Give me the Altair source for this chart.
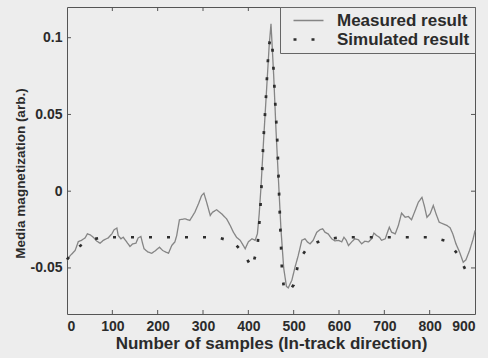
import altair as alt
import pandas as pd

# Measured result (sample index, magnetization)
meas_s = [0, 7, 18, 25, 32, 40, 45, 51, 58, 66,
          73, 80, 91, 99, 104, 110, 113, 119, 124, 132,
          139, 145, 152, 157, 163, 167, 170, 179, 187, 194,
          204, 211, 218, 224, 231, 238, 242, 248, 260, 271,
          282, 290, 297, 302, 308, 316, 321, 330, 341, 352,
          360, 367, 374, 382, 389, 393, 400, 408, 415, 420,
          424, 428, 434, 440, 446, 450, 456, 461, 466, 472,
          478, 484, 488, 496, 503, 510, 518, 525, 530, 536,
          543, 551, 558, 564, 569, 576, 584, 591, 599, 606,
          611, 616, 621, 628, 635, 643, 650, 657, 665, 672,
          677, 683, 689, 694, 702, 707, 711, 716, 724, 731,
          738, 746, 753, 760, 768, 775, 783, 788, 794, 801,
          808, 814, 821, 829, 838, 845, 851, 858, 866, 874,
          880, 888, 896, 900]
meas_v = [-0.045, -0.042, -0.0386, -0.0328, -0.032, -0.0304, -0.0278, -0.0284, -0.030, -0.0326,
          -0.0339, -0.032, -0.0304, -0.0278, -0.0251, -0.024, -0.0289, -0.031, -0.030, -0.0332,
          -0.036, -0.0343, -0.0339, -0.0304, -0.0295, -0.0343, -0.0375, -0.0397, -0.0404, -0.039,
          -0.0365, -0.0386, -0.0397, -0.0404, -0.0354, -0.033, -0.0289, -0.0186, -0.018, -0.019,
          -0.0137, -0.0082, -0.0028, -0.0013, -0.0072, -0.0158, -0.0137, -0.0121, -0.0147, -0.018,
          -0.0223, -0.0267, -0.030, -0.032, -0.0354, -0.0375, -0.033, -0.031, -0.032, -0.0278,
          -0.0147, 0.003, 0.035, 0.065, 0.095, 0.109, 0.075, 0.04, 0.01, -0.025,
          -0.05, -0.062, -0.063, -0.058, -0.0495, -0.042, -0.032, -0.031, -0.033, -0.0343,
          -0.032, -0.0267, -0.0251, -0.0245, -0.0267, -0.0278, -0.031, -0.0324, -0.032, -0.033,
          -0.030, -0.032, -0.0354, -0.033, -0.031, -0.0317, -0.0343, -0.0326, -0.033, -0.031,
          -0.0273, -0.0289, -0.030, -0.032, -0.031, -0.0267, -0.0235, -0.0267, -0.0278, -0.0223,
          -0.0143, -0.017, -0.0165, -0.0186, -0.0126, -0.0072, -0.004, -0.0093, -0.017, -0.0147,
          -0.0093, -0.0147, -0.0202, -0.0212, -0.0223, -0.0238, -0.0278, -0.0343, -0.0397, -0.0463,
          -0.0447, -0.0386, -0.031, -0.0256]

# Simulated result
sim_s = [0, 18, 46, 80, 150, 250, 331, 367, 391, 408, 420, 426, 430, 433, 438, 442, 445, 449,
         453, 459, 464, 468, 471, 474, 478, 488, 500, 512, 534, 567, 606, 700, 803, 839, 862, 878, 900]
sim_v = [-0.0445, -0.038, -0.032, -0.030, -0.030, -0.030, -0.030, -0.033, -0.041, -0.050, -0.037,
         -0.014, 0.009, 0.032, 0.056, 0.079, 0.094, 0.100, 0.094, 0.0595, 0.032, -0.003, -0.027,
         -0.050, -0.062, -0.066, -0.061, -0.0445, -0.0354, -0.0315, -0.030, -0.030, -0.030, -0.0326,
         -0.041, -0.0506, -0.057]

series_names = ["Measured result", "Simulated result"]
x_ticks = [0, 100, 200, 300, 400, 500, 600, 700, 800, 900]
y_ticks = [-0.05, 0, 0.05, 0.1]

W, H = 408, 307
FONT = "Liberation Sans"
BG = "#ededed"
TXT = "#2b2b2b"

df = pd.concat([
    pd.DataFrame({"s": meas_s, "v": meas_v, "series": series_names[0], "o": range(len(meas_s))}),
    pd.DataFrame({"s": sim_s, "v": sim_v, "series": series_names[1], "o": range(len(sim_s))}),
])

xscale = alt.Scale(domain=[0, 900], nice=False, zero=False)
yscale = alt.Scale(domain=[-0.08, 0.12], nice=False, zero=False)

leg = alt.Legend(
    title=None, orient="top-right", offset=0, fillColor=BG, strokeColor="#666",
    padding=5, labelFont=FONT, labelFontWeight="bold", labelFontSize=17, labelColor=TXT,
    symbolType="stroke", symbolSize=900, clipHeight=17, labelOffset=12, rowPadding=1,
    symbolOffset=7,
)

lines = alt.Chart(df).mark_line(strokeCap="butt").encode(
    x=alt.X("s:Q", scale=xscale,
            axis=alt.Axis(values=x_ticks, title="Number of samples (In-track direction)",
                          tickSize=0, domain=False, grid=False, labelPadding=5,
                          titlePadding=2, titleFontSize=17, format="d")),
    y=alt.Y("v:Q", scale=yscale,
            axis=alt.Axis(values=y_ticks, title="Media magnetization (arb.)",
                          tickSize=0, domain=False, grid=False, labelPadding=5,
                          titlePadding=3, titleFontSize=13.5, titleY=166,
                          labelExpr="datum.value < 0 ? '-' + format(-datum.value, '~g') : format(datum.value, '~g')")),
    color=alt.Color("series:N", scale=alt.Scale(domain=series_names, range=["#858585", "#2e2e2e"]), legend=leg),
    strokeDash=alt.StrokeDash("series:N", scale=alt.Scale(domain=series_names, range=[[1, 0], [3, 15]]), legend=leg),
    strokeWidth=alt.StrokeWidth("series:N", scale=alt.Scale(domain=series_names, range=[1.3, 2.7]), legend=leg),
    order="o:Q",
)

xt = pd.DataFrame({"t": x_ticks[1:-1]})
yt = pd.DataFrame({"t": y_ticks})
tick_col = "#555"
top_ticks = alt.Chart(xt).mark_rule(color=tick_col).encode(
    x=alt.X("t:Q", scale=xscale), y=alt.value(0), y2=alt.value(4))
bot_ticks = alt.Chart(xt).mark_rule(color=tick_col).encode(
    x=alt.X("t:Q", scale=xscale), y=alt.value(H), y2=alt.value(H - 4))
left_ticks = alt.Chart(yt).mark_rule(color=tick_col).encode(
    y=alt.Y("t:Q", scale=yscale), x=alt.value(0), x2=alt.value(4))
right_ticks = alt.Chart(yt).mark_rule(color=tick_col).encode(
    y=alt.Y("t:Q", scale=yscale), x=alt.value(W), x2=alt.value(W - 4))

chart = alt.layer(top_ticks, bot_ticks, left_ticks, right_ticks, lines).properties(
    width=W, height=H,
    autosize=alt.AutoSizeParams(type="none"),
    padding={"left": 67, "top": 7, "right": 13, "bottom": 44},
    background=BG,
).configure_view(
    stroke="#555", strokeWidth=1, fill=BG
).configure_axis(
    labelFont=FONT, labelFontWeight="bold", labelFontSize=14, labelColor=TXT,
    titleFont=FONT, titleFontWeight="bold", titleColor=TXT,
)

chart.save("out.html", embed_options={"renderer": "svg", "actions": False})
